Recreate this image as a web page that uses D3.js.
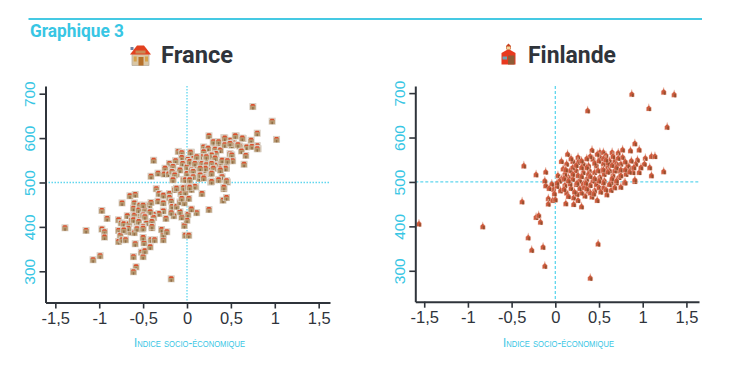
<!DOCTYPE html>
<html><head><meta charset="utf-8">
<script src="https://cdn.jsdelivr.net/npm/d3@7"></script>
<style>html,body{margin:0;padding:0;background:#fff}svg{display:block}</style>
</head><body><div id="c"></div>
<script>
const headline = "Graphique 3";
const axisTitle = "Indice socio-économique";
const xTicks = [-1.5,-1,-0.5,0,0.5,1,1.5];
const yTicks = [300,400,500,600,700];
const francePoints = [
[-1.39,398],[-1.15,392],[-1.07,326],[-0.99,335],[-0.97,395],[-0.94,389],[-0.94,377],[-0.97,437],[-0.91,419],
[-0.78,392],[-0.76,381],[-0.78,367],[-0.74,371],[-0.70,371],[-0.68,390],[-0.64,388],[-0.60,387],[-0.59,362],[-0.61,333],[-0.58,310],[-0.61,299],
[-0.52,343],[-0.50,333],[-0.48,346],[-0.42,355],[-0.49,364],[-0.50,376],[-0.41,371],[-0.37,371],[-0.27,371],[-0.27,383],[-0.29,394],[-0.23,389],
[-0.40,398],[-0.51,395],[-0.57,396],[-0.18,283],[-0.03,403],[0,415],[-0.02,381],[0.02,381],[0.01,428],[-0.06,422],[-0.08,434],[0.11,432],[0.05,440],[0.25,439],
[-0.15,425],[-0.18,432],[-0.24,419],[-0.27,436],[-0.32,430],[-0.38,428],[-0.38,421],[-0.40,409],[-0.46,409],[-0.57,411],[-0.57,420],[-0.57,430],[-0.59,437],[-0.60,446],[-0.60,454],
[-0.54,449],[-0.47,446],[-0.43,449],[-0.41,455],[-0.48,434],[-0.48,422],[-0.74,454],[-0.65,470],[-0.59,473],[-0.35,486],[-0.32,475],[-0.27,471],[-0.33,458],[-0.27,454],
[-0.20,475],[-0.20,466],[-0.18,458],[-0.17,446],[-0.12,446],[-0.08,456],[-0.03,454],[0.02,464],[-0.14,484],[-0.08,486],[-0.07,475],[-0.02,478],[-0.04,488],[0.01,490],[0.05,484],[0.10,490],
[0.17,475],[0.42,486],[0.41,460],[0.45,466],[0.46,501],[0.27,501],[-0.06,464],[-0.78,416],[-0.68,425],[-0.75,409],[-0.72,407],[-0.66,407],[-0.63,416],[-0.60,426],[-0.50,430],
[0.75,671],[0.97,638],[0.80,611],[1.02,597],[0.25,605],[0.42,601],[0.56,605],[0.64,599],[0.73,595],[0.30,590],[0.36,589],[0.42,589],[0.49,595],[0.53,589],[0.19,580],[0.24,577],[0.32,575],[0.38,573],
[0.51,584],[0.60,582],[0.68,580],[0.75,582],[0.80,583],[0.81,576],[0.62,571],[0.67,561],[0.65,541],[0.49,565],[0.51,556],[0.50,549],[0.45,545],[0.45,532],[0.38,543],[0.37,532],[0.30,550],[0.33,565],
[0.26,559],[0.19,569],[0.17,558],[0.12,558],[0.05,568],[-0.10,570],[-0.06,567],[-0.06,556],[0.07,554],[0.01,552],[-0.12,547],[-0.20,543],[-0.38,550],[-0.41,514],[-0.33,521],[-0.25,532],[-0.26,519],[-0.21,519],
[-0.17,528],[-0.16,509],[-0.12,519],[-0.04,507],[0.03,505],[-0.05,543],[0,535],[0.06,543],[0.08,532],[0.14,532],[0.15,520],[0.14,509],[0.19,513],[0.21,539],[0.26,543],[0.27,528],[0.27,519],[0.28,502],[0.37,507],[0.40,513],
[0.21,550],[0.13,543],[0,520],[-0.08,528],[0.05,528],[0.19,528],[0.32,539],[0.40,550],
[-0.61,442],[-0.55,438],[-0.48,438],[-0.42,434],[-0.50,427],[-0.48,423],[-0.61,416],[-0.55,412],[-0.40,412],[-0.50,401],[-0.40,401],[-0.67,397],[-0.72,393],[-0.50,397],[-0.50,449],
[0.30,592],[0.36,592],[0.43,600],[0.55,605],[0.63,600],[0.43,585],[0.49,588],[0.58,585],[0.74,581],[0.80,576],[0.51,562],[0.52,549],[0.46,549],[0.44,532],[0.38,528],[0.36,506],[0.45,504],[0.42,489],
[0.28,562],[0.32,555],[0.22,558],[0.11,558],[0.04,568],[-0.13,549],[0.03,547],[0.09,543],[0.17,543],[0.22,540],[0.28,543],[0.30,532],[0.28,521],[0.21,532],[0.15,532],[0.15,517],[0.19,510],[0.07,525],[0.07,513],
[-0.16,536],[-0.17,525],[-0.14,517],[-0.02,506],[0.03,506],[-0.16,506],[0.09,491],[-0.12,487],[0.03,489]
];
const finlandPoints = [
[-1.56,408],[-0.83,402],[-0.38,458],[-0.22,423],[-0.19,427],[-0.17,412],[-0.31,377],[-0.27,349],[-0.14,356],[-0.12,313],[0.40,286],[0.49,363],[-0.08,465],[-0.08,453],[-0.03,461],[0,463],
[0.12,454],[0.21,452],[0.21,467],[0.26,461],[0.30,447],[0.34,471],[0.30,478],[0.42,469],[0.48,461],[0.59,474],[0.64,484],[0.75,491],[0.79,501],[0.91,504],[-0.11,494],[-0.02,486],[0.06,483],[0.13,478],
[0.18,488],[0.28,488],[0.38,482],[0.45,483],[0.55,489],[0.62,497],[0.70,501],
[0.875,700],[1.24,705],[1.36,699],[0.37,663],[1.07,668],[1.28,626],[0.91,589],[0.96,575],[1.10,560],[1.14,560],[1.24,526],[1.10,517],[-0.36,539],[-0.22,519],[-0.11,525],[0.14,565],[0.07,549],[0.26,558],
[0.42,574],[0.51,569],[0.55,569],[0.65,569],[0.72,568],[0.77,575],[0.86,573],[0.43,554],[0.20,549],[0.13,543],[0.32,543],[0.26,547],[0.38,539],[0.51,558],[0.58,562],[0.68,550],[0.77,558],[0.87,550],[0.94,552],[1.03,556],
[1.08,535],[1.02,543],[0.96,524],[0.91,507],[0.92,543],[0.81,520],[0.80,501],[0.73,513],[0.66,517],[0.60,535],[0.55,543],[0.47,539],[0.39,528],[0.32,524],[0.24,528],[0.17,528],[0.09,532],[0.03,517],[-0.04,498],[-0.12,505],
[0.07,509],[0.15,513],[0.20,509],[0.28,505],[0.36,509],[0.43,505],[0.51,513],[0.56,505],[0.64,501],[0.72,528],[0.85,535],[0.75,543],[0.62,550],[0.53,528],[0.45,524],[0.62,528],[0.70,543],[0.83,539],[0.36,535],[0.20,535],
[0.11,520],[0.26,517],[0.38,520],[0.49,528],[0.56,520],[0.68,528],[0.75,517],[0.89,524],
[0.02,493],[0.11,495],[0.17,498],[0.24,497],[0.32,498],[0.40,495],[0.47,497],[0.55,501],[0.62,497],[0.40,478],[0.25,475],[0.33,490],[0.50,490],[0.58,485],[0.68,490],[0.10,486],[0.15,470],[0.22,480],[0.36,487],[0.44,476],[0.52,480],
[0.05,505],[0.10,510],[0.20,520],[0.30,515],[0.30,535],[0.40,515],[0.45,545],[0.50,550],[0.55,555],[0.60,545],[0.65,540],[0.70,535],[0.75,530],[0.80,530],[0.85,525],[0.55,530],[0.60,525],[0.65,510],[0.70,505],[0.50,505],[0.45,510],
[0.35,500],[0.25,500],[0.15,505],[0.40,560],[0.58,552],[0.66,560],[0.80,548],[0.90,535],[0.98,535],[0.30,550],[0.36,555],[0.48,565],[0.72,556],[0.02,500],[-0.07,488],[-0.01,476],[0.12,530],[0.18,555],[0.24,540]
];
const CYAN="#38c6e4", INK="#2f343b", GUIDE="#5fd6ee";
const svg=d3.select("#c").append("svg").attr("width",737).attr("height",368);
const defs=svg.append("defs");
const house=defs.append("symbol").attr("id","ico-france").attr("viewBox","0 0 22 22").attr("overflow","visible");
house.append("path").attr("d","M1 3H4V6H1Z").attr("fill","#6f7f9f");
house.append("path").attr("d","M2.5 10H19.5V21.5H2.5Z").attr("fill","#d9c6a4").attr("stroke","#b9b0a2").attr("stroke-width",.8);
house.append("path").attr("d","M.5 10.5L7.5 1.5H14.5L21.5 10.5Z").attr("fill","#e2411f");
house.append("rect").attr("x",6).attr("y",6.5).attr("width",10).attr("height",3).attr("fill","#c98a55");
house.append("rect").attr("x",9).attr("y",13).attr("width",5).attr("height",8.5).attr("fill","#b5702a");
house.append("rect").attr("x",4.2).attr("y",12.5).attr("width",3).attr("height",5).attr("fill","#d6a24a");
house.append("rect").attr("x",15.5).attr("y",12.5).attr("width",3).attr("height",5).attr("fill","#d6a24a");
const school=defs.append("symbol").attr("id","ico-finland").attr("viewBox","0 0 16 22").attr("overflow","visible");
school.append("path").attr("d","M1 10L8 6L15 10V21.5H1Z").attr("fill","#e8391f");
school.append("path").attr("d","M5.5 6V3L8 .5L10.5 3V6L8 7.5Z").attr("fill","#c9401f");
school.append("rect").attr("x",7.5).attr("y",12.5).attr("width",6.5).attr("height",9).attr("fill","#8f5c36");
school.append("rect").attr("x",2).attr("y",13.5).attr("width",4.5).attr("height",3).attr("fill","#6fa3b5");
school.append("rect").attr("x",6).attr("y",3.5).attr("width",4).attr("height",3).attr("fill","#f2d9a0");
const dot=defs.append("symbol").attr("id","dot-finland").attr("viewBox","0 0 7 10").attr("overflow","visible");
dot.append("path").attr("d","M3.5 .3L4.3 3.2L6.6 5.2V9.7H.4V5.2L2.7 3.2Z").attr("fill","#cc5a3c").attr("stroke","#f3cfc3").attr("stroke-width",.5);
dot.append("rect").attr("x",3.6).attr("y",5.8).attr("width",2.2).attr("height",3.9).attr("fill","#93502f");
const hdot=defs.append("symbol").attr("id","dot-france").attr("viewBox","0 0 7 7").attr("overflow","visible");
hdot.append("rect").attr("x",0).attr("y",0).attr("width",7).attr("height",7).attr("fill","#d9cfc3");
hdot.append("rect").attr("x",.8).attr("y",2.4).attr("width",5.4).attr("height",4).attr("fill","#b8986f");
hdot.append("rect").attr("x",2.8).attr("y",4).attr("width",1.5).attr("height",2.4).attr("fill","#8f6d47");
hdot.append("path").attr("d","M.9 2.6L2 1H5L6.1 2.6Z").attr("fill","#d8502c");

svg.append("line").attr("x1",28.5).attr("x2",702).attr("y1",19).attr("y2",19).attr("stroke","#45c9e3").attr("stroke-width",2);
svg.append("text").text(headline).attr("x",30).attr("y",37).attr("fill",CYAN)
  .attr("font-family","Roboto").attr("font-weight",700).attr("font-size",18).attr("textLength",94).attr("lengthAdjust","spacingAndGlyphs");

const panels=[
 {name:"France",pts:francePoints,sym:"dot-france",w:7,h:7,dx:[-1.612,1.629],rx:[45.5,330],dy:[229.7,717.3],ry:[302.5,86],dash:"1.5 1.5",
  icon:"ico-france",ix:129.5,iy:44,iw:22,ih:22,tx:161,tw:72,lx:189.5},
 {name:"Finlande",pts:finlandPoints,sym:"dot-finland",w:5.6,h:8,dx:[-1.602,1.644],rx:[415.3,699],dy:[230.4,716],ry:[301.7,86],dash:"3 2",
  icon:"ico-finland",ix:500.5,iy:43,iw:16,ih:22,tx:528,tw:88,lx:558.5}
];
panels.forEach(p=>{
  const x=d3.scaleLinear().domain(p.dx).range(p.rx);
  const y=d3.scaleLinear().domain(p.dy).range(p.ry);
  const g=svg.append("g");
  g.append("use").attr("href","#"+p.icon).attr("x",p.ix).attr("y",p.iy).attr("width",p.iw).attr("height",p.ih);
  g.append("text").text(p.name).attr("x",p.tx).attr("y",63).attr("fill",INK)
    .attr("font-family","Roboto").attr("font-weight",700).attr("font-size",24).attr("textLength",p.tw).attr("lengthAdjust","spacingAndGlyphs");
  g.append("line").attr("x1",p.rx[0]).attr("x2",p.rx[1]).attr("y1",y(500)).attr("y2",y(500)).attr("stroke",GUIDE).attr("stroke-width",1.3).attr("stroke-dasharray",p.dash);
  g.append("line").attr("x1",x(0)).attr("x2",x(0)).attr("y1",p.ry[1]).attr("y2",p.ry[0]).attr("stroke",GUIDE).attr("stroke-width",1.3).attr("stroke-dasharray",p.dash);
  g.append("g").selectAll("use").data(p.pts).join("use").attr("href","#"+p.sym)
    .attr("x",d=>x(d[0])-p.w/2).attr("y",d=>y(d[1])-p.h/2).attr("width",p.w).attr("height",p.h);
  const fmt=d=>String(d).replace(".",",");
  const ax=g.append("g").attr("transform",`translate(0,${p.ry[0]})`)
    .call(d3.axisBottom(x).tickValues(xTicks).tickFormat(fmt).tickSize(6).tickSizeOuter(0));
  ax.selectAll("text").attr("font-family","Liberation Sans").attr("font-size",16.5).attr("fill",INK).attr("y",10);
  const ay=g.append("g").attr("transform",`translate(${p.rx[0]},0)`)
    .call(d3.axisLeft(y).tickValues(yTicks).tickSize(6).tickSizeOuter(0));
  ay.selectAll("text").attr("font-family","Liberation Sans").attr("font-size",15.5).attr("fill",CYAN)
    .attr("text-anchor","middle").attr("x",0).attr("y",0).attr("dy",0)
    .attr("transform",`translate(-10.5,0) rotate(-90)`);
  [ax,ay].forEach(a=>{a.select(".domain").attr("stroke",INK).attr("stroke-width",2);a.selectAll(".tick line").attr("stroke",INK).attr("stroke-width",1.6);});
  g.append("text").text(axisTitle).attr("x",p.lx).attr("y",346.5).attr("text-anchor","middle").attr("fill",CYAN)
    .attr("font-family","Liberation Sans").attr("font-size",13.5).attr("textLength",111).attr("lengthAdjust","spacingAndGlyphs").style("font-variant","small-caps");
});
</script></body></html>
